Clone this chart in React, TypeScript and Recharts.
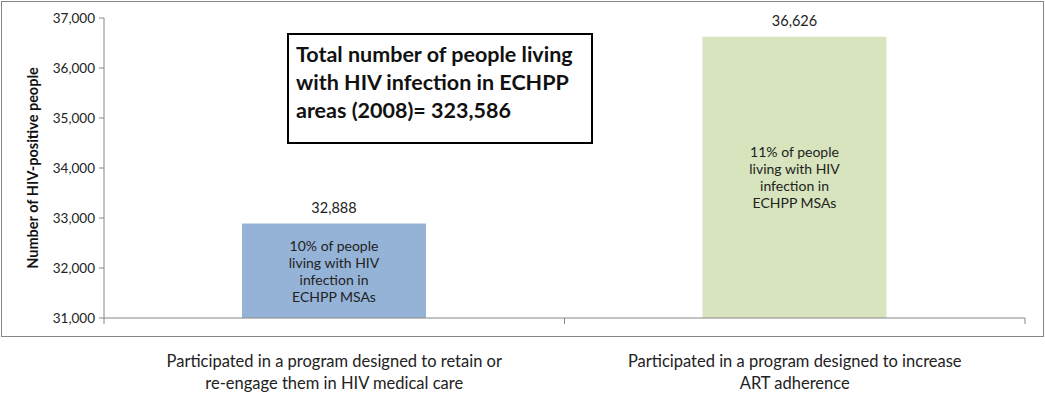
import { ComposedChart, Bar, XAxis, YAxis, LabelList, Cell } from "recharts";

const categories = [
  "Participated in a program designed to retain or|re-engage them in HIV medical care",
  "Participated in a program designed to increase|ART adherence",
];
const people = [32888, 36626];
const shares = [
  "10% of people|living with HIV|infection in|ECHPP MSAs",
  "11% of people|living with HIV|infection in|ECHPP MSAs",
];
const barColors = ["#95B3D7", "#D7E4BD"];
const yTicks = [31000, 32000, 33000, 34000, 35000, 36000, 37000];
// category boundaries (integers) and centres (halves) on a 0..2 scale
const xTicks = [0, 0.5, 1, 1.5, 2];

const data = categories.map((c, i) => ({
  category: c,
  pos: i + 0.5,
  people: people[i],
  share: shares[i],
}));

const FONT = "Lato, 'Open Sans', sans-serif";
const AXIS = "#868686";

const XTick = (props: any) => {
  const { x, y, payload } = props;
  const v = Number(payload.value);
  if (Number.isInteger(v)) {
    return <line x1={x} x2={x} y1={y} y2={y + 6} stroke={AXIS} />;
  }
  const lines = categories[Math.floor(v)].split("|");
  return (
    <text x={x} y={y} textAnchor="middle" fontFamily={FONT} fontSize={16.5} fill="#222">
      {lines.map((l, i) => (
        <tspan key={i} x={x} dy={i === 0 ? 49 : 22}>
          {l}
        </tspan>
      ))}
    </text>
  );
};

const ShareLabel = (props: any) => {
  const { x, y, width, height, value } = props;
  const lines = String(value).split("|");
  const cx = x + width / 2;
  const cy = y + height / 2;
  const lh = 17;
  const start = cy - ((lines.length - 1) * lh) / 2;
  return (
    <text textAnchor="middle" fontFamily={FONT} fontSize={14} fill="#222">
      {lines.map((l, i) => (
        <tspan key={i} x={cx} y={start + i * lh} dominantBaseline="central">
          {l}
        </tspan>
      ))}
    </text>
  );
};

const YTitle = (props: any) => {
  const vb = props.viewBox;
  const cx = vb.x + 18;
  const cy = vb.y + vb.height / 2;
  return (
    <text
      x={cx}
      y={cy}
      transform={`rotate(-90, ${cx}, ${cy})`}
      textAnchor="middle"
      dominantBaseline="central"
      fontFamily={FONT}
      fontWeight="bold"
      fontSize={14.5}
      fill="#111"
    >
      Number of HIV-positive people
    </text>
  );
};

export default function App() {
  return (
    <div style={{ position: "absolute", left: 0, top: 0, width: 1045, height: 398, background: "#fff" }}>
      <div
        style={{
          position: "absolute",
          left: 1,
          top: 1,
          width: 1041,
          height: 334,
          border: `1px solid ${AXIS}`,
        }}
      />
      <ComposedChart
        width={1045}
        height={398}
        data={data}
        margin={{ top: 18, right: 20, bottom: 0, left: 14 }}
        style={{ position: "absolute", left: 0, top: 0 }}
      >
        <XAxis xAxisId="cat" dataKey="category" hide height={0} />
        <XAxis
          xAxisId="grid"
          type="number"
          dataKey="pos"
          domain={[0, 2]}
          ticks={xTicks}
          tick={<XTick />}
          tickLine={false}
          tickSize={0}
          tickMargin={0}
          height={80}
          interval={0}
          axisLine={{ stroke: AXIS }}
        />
        <YAxis
          domain={[31000, 37000]}
          ticks={yTicks}
          allowDataOverflow
          width={90}
          stroke={AXIS}
          tickSize={5}
          tickMargin={4}
          tick={{ fill: "#222", fontFamily: FONT, fontSize: 13.5 }}
          tickFormatter={(v: number) => v.toLocaleString("en-US")}
          label={<YTitle />}
        />
        <Bar xAxisId="cat" dataKey="people" isAnimationActive={false} barSize={184}>
          {data.map((d, i) => (
            <Cell key={d.category} fill={barColors[i]} />
          ))}
          <LabelList
            dataKey="people"
            position="top"
            offset={11}
            formatter={(v: any) => Number(v).toLocaleString("en-US")}
            style={{ fontFamily: FONT, fontSize: 14.5, fill: "#222" }}
          />
          <LabelList dataKey="share" content={<ShareLabel />} />
        </Bar>
      </ComposedChart>
      <div
        style={{
          position: "absolute",
          left: 287,
          top: 33,
          width: 306,
          height: 111,
          border: "2px solid #000",
          background: "#fff",
          fontFamily: FONT,
          fontWeight: "bold",
          fontSize: 21.5,
          lineHeight: "28px",
          padding: "5px 0 0 7px",
          boxSizing: "border-box",
          color: "#111",
          whiteSpace: "nowrap",
        }}
      >
        Total number of people living
        <br />
        with HIV infection in ECHPP
        <br />
        areas (2008)= 323,586
      </div>
    </div>
  );
}
